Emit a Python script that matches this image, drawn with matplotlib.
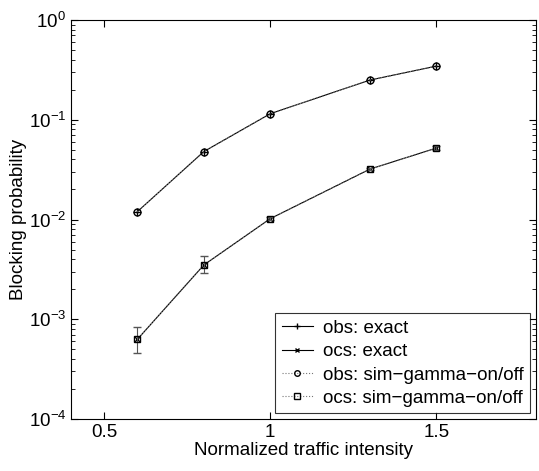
import numpy as np
import matplotlib.pyplot as plt
from matplotlib.ticker import LogLocator, NullFormatter

plt.rcParams['font.family'] = ['Liberation Sans', 'DejaVu Sans']
plt.rcParams['mathtext.fontset'] = 'custom'
plt.rcParams['mathtext.rm'] = 'Liberation Sans'

load = [0.6, 0.8, 1.0, 1.3, 1.5]
obs_exact = [0.012, 0.048, 0.115, 0.25, 0.345]
ocs_exact = [6.3e-4, 3.5e-3, 0.0102, 0.032, 0.052]
obs_sim = [0.012, 0.048, 0.115, 0.25, 0.345]
ocs_sim = [6.3e-4, 3.5e-3, 0.0102, 0.032, 0.052]
ocs_sim_lo = [4.6e-4, 2.9e-3, 0.0098, 0.031, 0.050]
ocs_sim_hi = [8.3e-4, 4.3e-3, 0.0106, 0.033, 0.054]

fig = plt.figure(figsize=(5.39, 4.71), dpi=100)
ax = fig.add_axes([71/539, 1 - 419/471, 465/539, 399/471])

ax.plot(load, obs_exact, '-', color='black', marker='+', markersize=6, lw=0.8, label='obs: exact')
ax.plot(load, ocs_exact, '-', color='black', marker='x', markersize=4, lw=0.8, label='ocs: exact')

err_lo = np.array(ocs_sim) - np.array(ocs_sim_lo)
err_hi = np.array(ocs_sim_hi) - np.array(ocs_sim)
ax.errorbar(load, ocs_sim, yerr=[err_lo, err_hi], fmt='none', ecolor='#555555', elinewidth=0.8, capsize=3)

ax.plot(load, obs_sim, ':', color='#777777', marker='o', markersize=5, mfc='none', mec='black', lw=0.8,
        label='obs: sim\u2212gamma\u2212on/off')
ax.plot(load, ocs_sim, ':', color='#777777', marker='s', markersize=5, mfc='none', mec='black', lw=0.8,
        label='ocs: sim\u2212gamma\u2212on/off')

ax.set_yscale('log')
ax.set_xlim(0.4, 1.8)
ax.set_ylim(1e-4, 1)
ax.set_xticks([0.5, 1, 1.5])
ax.set_xticklabels(['0.5', '1', '1.5'])
ax.yaxis.set_major_locator(LogLocator(base=10, numticks=10))
ax.yaxis.set_minor_locator(LogLocator(base=10, subs=np.arange(2, 10), numticks=10))
ax.yaxis.set_minor_formatter(NullFormatter())
ax.tick_params(which='both', direction='in', top=True, right=True, labelsize=13.5)
ax.tick_params(which='major', length=5)
ax.tick_params(which='minor', length=3)
for s in ax.spines.values():
    s.set_linewidth(0.8)

ax.set_xlabel('Normalized traffic intensity', fontsize=13.5, labelpad=1)
ax.set_ylabel('Blocking probability', fontsize=13.5, labelpad=1)

leg = ax.legend(loc='lower right', fontsize=13.5, frameon=True, fancybox=False, edgecolor='black',
                handlelength=1.65, handletextpad=0.55, borderpad=0.35, labelspacing=0.33,
                borderaxespad=0.3, markerscale=0.8)
leg.get_frame().set_linewidth(0.8)

plt.savefig('out.png')
